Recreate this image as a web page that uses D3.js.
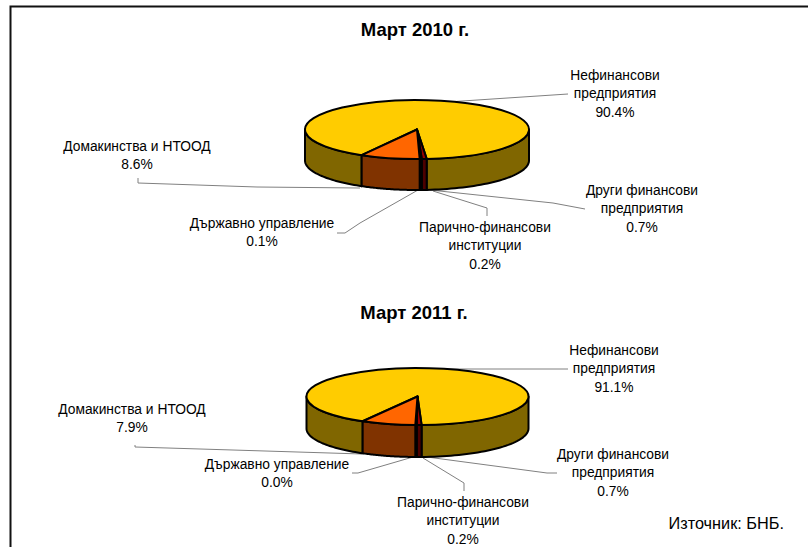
<!DOCTYPE html>
<html>
<head>
<meta charset="utf-8">
<script src="https://d3js.org/d3.v7.min.js"></script>
<style>
  html, body { margin: 0; padding: 0; background: #fff; }
  svg { display: block; }
  text { font-family: "Liberation Sans", Arial, sans-serif; fill: #000; }
</style>
</head>
<body>
<div id="chart"></div>
<script>
// slices run clockwise, starting from the yellow one
const categories = [
  ['Нефинансови', 'предприятия'],
  ['Други финансови', 'предприятия'],
  ['Парично-финансови', 'институции'],
  ['Държавно управление'],
  ['Домакинства и НТООД'],
];
const titles = ['Март 2010 г.', 'Март 2011 г.'];
const values2010 = [90.4, 0.7, 0.2, 0.1, 8.6];
const values2011 = [91.1, 0.7, 0.2, 0.0, 7.9];
const sourceNote = 'Източник: БНБ.';

const topColors = ['#ffcc00', '#990000', '#990000', '#990000', '#ff6600'];
const sideColors = ['#806600', '#4d0000', '#4d0000', '#4d0000', '#803300'];

// layout only: pie geometry, label anchors and leader lines per panel
const layouts = [
  {
    cx: 417, cy: 129.5, rx: 112, ry: 29.5, depth: 31, title: [415, 36],
    labels: [[615, 80], [642, 195], [485, 232], [262, 228], [137, 151]],
    leaders: [
      [[432, 103], [568, 94]],
      [[430, 190], [553, 203], [585, 209]],
      [[433, 191], [487, 208], [487, 216]],
      [[418, 190], [360, 223], [345, 233], [337, 233]],
      [[360, 188], [257, 187], [138, 183], [138, 178]],
    ],
  },
  {
    cx: 417.5, cy: 396.5, rx: 111, ry: 28.5, depth: 32, title: [414, 319],
    labels: [[614, 355], [613, 459], [463, 507], [277, 469], [132, 414]],
    leaders: [
      [[445, 369], [568, 369]],
      [[427, 457], [547, 473], [557, 473]],
      [[423, 458], [464, 483], [464, 491]],
      [[413, 457], [358, 473], [352, 473]],
      [[362, 454], [135, 447], [135, 445]],
    ],
  },
];

const width = 808;
const height = 547;
const startDeg = 209.6;
const lineStep = 18.4;

const svg = d3.select('#chart').append('svg')
  .attr('width', width)
  .attr('height', height);

// frame runs off the right and bottom edge of the picture
svg.append('path')
  .attr('d', `M10.5,${height + 2}V6.5H${width + 2}`)
  .attr('fill', 'none')
  .attr('stroke', '#111')
  .attr('stroke-width', 2);

const pie = d3.pie()
  .sort(null)
  .value(d => d)
  .startAngle(startDeg * Math.PI / 180)
  .endAngle((startDeg + 360) * Math.PI / 180);

function drawPanel(values, title, layout) {
  const { cx, cy, rx, ry, depth } = layout;
  const g = svg.append('g');
  const slices = pie(values);

  g.append('text')
    .attr('x', layout.title[0])
    .attr('y', layout.title[1])
    .attr('text-anchor', 'middle')
    .style('font-size', '18.5px')
    .style('font-weight', 'bold')
    .text(title);

  g.selectAll('path.leader')
    .data(layout.leaders)
    .join('path')
    .attr('class', 'leader')
    .attr('d', d3.line())
    .attr('fill', 'none')
    .attr('stroke', '#808080')
    .attr('stroke-width', 1);

  const xAt = a => cx + rx * Math.sin(a);
  const yAt = a => cy - ry * Math.cos(a);
  const rimLine = d3.line();

  // front wall: only the part of each slice between 3 and 9 o'clock shows
  const walls = [];
  slices.forEach((s, i) => {
    [0, 2 * Math.PI].forEach(shift => {
      const a0 = Math.max(s.startAngle, Math.PI / 2 + shift);
      const a1 = Math.min(s.endAngle, 3 * Math.PI / 2 + shift);
      if (a1 > a0) walls.push({ a0, a1, i });
    });
  });

  g.selectAll('path.wall')
    .data(walls)
    .join('path')
    .attr('class', 'wall')
    .attr('d', w => {
      const angles = d3.range(41).map(k => w.a0 + (w.a1 - w.a0) * k / 40);
      const top = angles.map(a => [xAt(a), yAt(a)]);
      const bottom = angles.slice().reverse().map(a => [xAt(a), yAt(a) + depth]);
      return rimLine(top.concat(bottom)) + 'Z';
    })
    .attr('fill', w => sideColors[w.i])
    .attr('stroke', '#000')
    .attr('stroke-width', 2)
    .attr('stroke-linejoin', 'round');

  const arc = d3.arc().innerRadius(0).outerRadius(rx);

  g.append('g')
    .attr('transform', `translate(${cx},${cy}) scale(1,${ry / rx})`)
    .selectAll('path')
    .data(slices)
    .join('path')
    .attr('d', arc)
    .attr('fill', (d, i) => topColors[i])
    .attr('stroke', '#000')
    .attr('stroke-width', 2)
    .attr('stroke-linejoin', 'round')
    .attr('vector-effect', 'non-scaling-stroke');

  const label = g.selectAll('text.label')
    .data(categories)
    .join('text')
    .attr('class', 'label')
    .attr('text-anchor', 'middle')
    .style('font-size', '13.8px');

  label.each(function (lines, i) {
    const [x, y] = layout.labels[i];
    const rows = lines.concat(`${values[i].toFixed(1)}%`);
    d3.select(this).selectAll('tspan')
      .data(rows)
      .join('tspan')
      .attr('x', x)
      .attr('y', (d, k) => y + k * lineStep)
      .text(d => d);
  });
}

drawPanel(values2010, titles[0], layouts[0]);
drawPanel(values2011, titles[1], layouts[1]);

svg.append('text')
  .attr('x', 784)
  .attr('y', 529)
  .attr('text-anchor', 'end')
  .style('font-size', '16.3px')
  .text(sourceNote);
</script>
</body>
</html>
